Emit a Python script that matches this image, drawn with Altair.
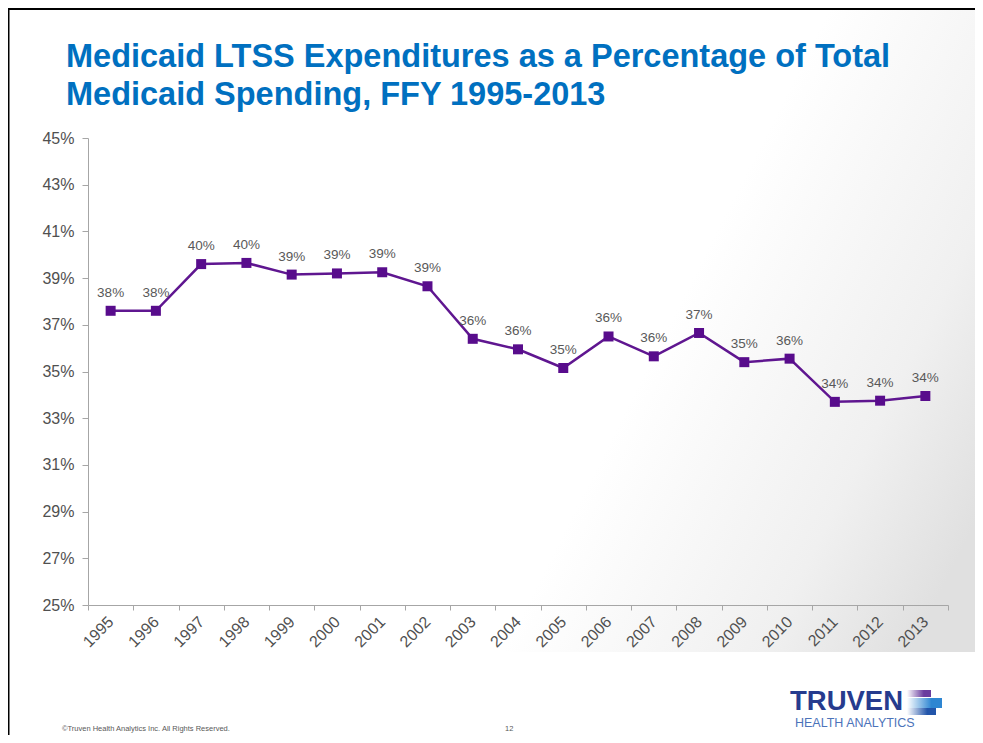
import altair as alt
import pandas as pd

# ---- data ----
years = ["1995", "1996", "1997", "1998", "1999", "2000", "2001", "2002", "2003", "2004",
         "2005", "2006", "2007", "2008", "2009", "2010", "2011", "2012", "2013"]
values = [37.6, 37.6, 39.6, 39.65, 39.15, 39.2, 39.25, 38.65, 36.4, 35.95,
          35.15, 36.5, 35.65, 36.65, 35.4, 35.55, 33.7, 33.75, 33.95]
labels = ["38%", "38%", "40%", "40%", "39%", "39%", "39%", "39%", "36%", "36%",
          "35%", "36%", "36%", "37%", "35%", "36%", "34%", "34%", "34%"]
y_ticks = [25, 27, 29, 31, 33, 35, 37, 39, 41, 43, 45]

title_line1 = "Medicaid LTSS Expenditures  as a Percentage of Total"
title_line2 = "Medicaid Spending, FFY 1995-2013"
footer_left = "\u00a9Truven Health Analytics Inc. All Rights Reserved."
page_number = "12"
logo_main = "TRUVEN"
logo_sub = "HEALTH ANALYTICS"

df = pd.DataFrame({"year": years, "value": values, "label": labels})
one = pd.DataFrame({"k": [0]})

FONT = "Liberation Sans"
W, H = 860, 467
PAD = {"left": 80, "top": 130, "right": 27, "bottom": 130}

# page coords -> plot coords
def px(x):
    return x - 88
def py(y):
    return y - 138

# ---- background decorations ----
grad = alt.LinearGradient(
    gradient="linear",
    stops=[alt.GradientStop(color="#FFFFFF", offset=0),
           alt.GradientStop(color="#FFFFFF", offset=0.45),
           alt.GradientStop(color="#F0F0F0", offset=0.8),
           alt.GradientStop(color="#E0E0E0", offset=1)],
    x1=0, y1=0.2, x2=1, y2=0.8)
bg = alt.Chart(one).mark_rect(color=grad).encode(
    x=alt.value(px(430)), x2=alt.value(px(976)),
    y=alt.value(py(8)), y2=alt.value(py(652)))

border_top = alt.Chart(one).mark_rule(color="#000000", strokeWidth=3).encode(
    x=alt.value(px(8)), x2=alt.value(px(976)), y=alt.value(py(8.5)))
border_left = alt.Chart(one).mark_rule(color="#000000", strokeWidth=3).encode(
    x=alt.value(px(8)), y=alt.value(py(8)), y2=alt.value(py(736)))

# ---- title ----
def title_text(t, ybase):
    return alt.Chart(one).mark_text(
        font=FONT, fontSize=32.5, fontWeight="bold", color="#0070C0",
        align="left", baseline="alphabetic", text=t).encode(
        x=alt.value(px(66)), y=alt.value(py(ybase)))
title1 = title_text(title_line1, 67)
title2 = title_text(title_line2, 105)

# ---- main chart ----
xenc = alt.X("year:O", sort=years,
             scale=alt.Scale(type="band", paddingInner=0, paddingOuter=0),
             axis=alt.Axis(title=None, tickBand="extent", labelAngle=-45,
                           labelAlign="right", labelBaseline="middle",
                           labelFont=FONT, labelFontSize=16, labelColor="#505050",
                           labelPadding=9, tickSize=5, tickColor="#A6A6A6",
                           domainColor="#A6A6A6", grid=False, zindex=1))
yenc = alt.Y("value:Q",
             scale=alt.Scale(domain=[25, 45], nice=False, zero=False),
             axis=alt.Axis(title=None, values=y_ticks, labelExpr="datum.value + '%'",
                           labelFont=FONT, labelFontSize=16, labelColor="#505050",
                           labelPadding=8, tickSize=6, tickColor="#A6A6A6",
                           domainColor="#A6A6A6", grid=False, zindex=1))

base = alt.Chart(df).encode(x=xenc, y=yenc)
line = base.mark_line(color="#5F1690", strokeWidth=2.5)
pts = base.mark_point(shape="square", filled=True, size=100, opacity=1, color="#580C8C")
txt = base.mark_text(font=FONT, fontSize=13.5, color="#595959", dy=-18).encode(text="label:N")

# ---- footer & logo ----
def deco_text(t, x, y, size, color, weight="normal"):
    return alt.Chart(one).mark_text(font=FONT, fontSize=size, color=color, fontWeight=weight,
                                    align="left", baseline="alphabetic", text=t).encode(
        x=alt.value(px(x)), y=alt.value(py(y)))
foot1 = deco_text(footer_left, 62, 731, 7.5, "#595959")
foot2 = deco_text(page_number, 505, 731, 7.5, "#595959")
logo1 = deco_text(logo_main, 790, 710, 27.5, "#263B8E", "bold")
logo2 = deco_text(logo_sub, 795, 727, 12.5, "#4C73BA")

def bar_grad(c):
    return alt.LinearGradient(gradient="linear",
                              stops=[alt.GradientStop(color="#FFFFFF", offset=0),
                                     alt.GradientStop(color=c, offset=0.7),
                                     alt.GradientStop(color=c, offset=1)],
                              x1=0, y1=0, x2=1, y2=0)
icon1 = alt.Chart(one).mark_rect(color=bar_grad("#6A3C9E")).encode(
    x=alt.value(px(907)), x2=alt.value(px(931)), y=alt.value(py(690)), y2=alt.value(py(697)))
icon2 = alt.Chart(one).mark_rect(color=bar_grad("#2E86D2")).encode(
    x=alt.value(px(907)), x2=alt.value(px(942)), y=alt.value(py(698)), y2=alt.value(py(708)))
icon3 = alt.Chart(one).mark_rect(color=bar_grad("#2255AA")).encode(
    x=alt.value(px(907)), x2=alt.value(px(936)), y=alt.value(py(708)), y2=alt.value(py(715)))

chart = alt.layer(
    bg, border_top, border_left, line, pts, txt, title1, title2,
    foot1, foot2, logo1, logo2, icon1, icon2, icon3
).properties(
    width=W, height=H,
    autosize=alt.AutoSizeParams(type="none"),
    padding=PAD,
    background="#FFFFFF",
).configure_view(stroke=None)

chart.save("out.html", embed_options={"renderer": "svg", "actions": False})
